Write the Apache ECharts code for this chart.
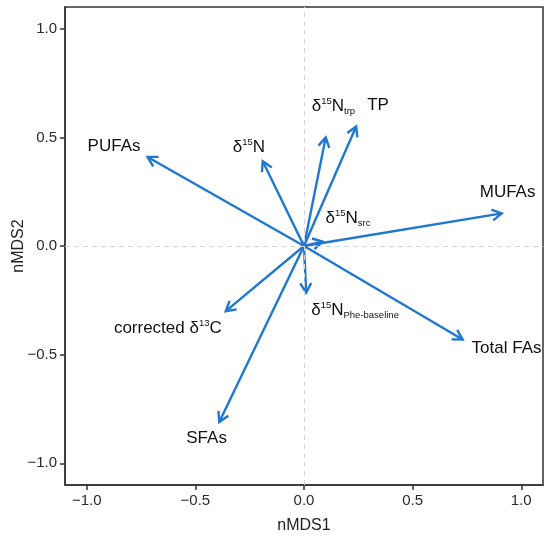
<!DOCTYPE html>
<html>
<head>
<meta charset="utf-8">
<style>
  html, body { margin: 0; padding: 0; background: #fff; }
  #chart { width: 550px; height: 541px; }
</style>
<script src="https://cdn.jsdelivr.net/npm/echarts@6/dist/echarts.min.js"></script>
</head>
<body>
<div id="chart"></div>
<script>
// 变量名称（rich 文本，带上下标）
var names = [
  'PUFAs',
  '{n|δ}{sup|15}{n|N}',
  '{n|δ}{sup|15}{n|N}{sub|trp}',
  'TP',
  'MUFAs',
  '{n|δ}{sup|15}{n|N}{sub|src}',
  '{n|δ}{sup|15}{n|N}{sub|Phe-baseline}',
  'Total FAs',
  '{n|corrected δ}{sup|13}{n|C}',
  'SFAs'
];
// 箭头终点坐标
var nmds1 = [-0.72, -0.19, 0.10, 0.24, 0.91, 0.085, 0.01, 0.73, -0.36, -0.39];
var nmds2 = [0.41, 0.39, 0.50, 0.55, 0.15, 0.02, -0.215, -0.43, -0.30, -0.81];
var ticks = [-1.0, -0.5, 0.0, 0.5, 1.0];

// 标签相对箭头尖端的像素偏移和对齐方式
var labelOffsets = [
  [-60, -11, 'left'], [-30, -14, 'left'], [-14, -31, 'left'], [11, -21, 'left'],
  [-22, -21, 'left'], [3, -23, 'left'], [5, 18, 'left'], [9, 9, 'left'],
  [-4, 17, 'right'], [-33, 16, 'left']
];

var blue = '#1f77d2';
var font = 'Liberation Sans, Arial, sans-serif';
var richStyle = {
  n: { fontSize: 17, lineHeight: 20, fill: '#111', fontFamily: font },
  sup: { fontSize: 9.5, lineHeight: 10, verticalAlign: 'top', fill: '#111', fontFamily: font },
  sub: { fontSize: 9.5, lineHeight: 10, verticalAlign: 'bottom', fill: '#111', fontFamily: font }
};

var arrowData = names.map(function (n, i) {
  return [nmds1[i], nmds2[i], i];
});

function fmt(v) {
  return (v < 0 ? '\u2212' : '') + Math.abs(v).toFixed(1);
}

var myChart = echarts.init(document.getElementById('chart'));

var axisLine = { show: true, onZero: false, lineStyle: { color: '#333', width: 1.5 } };
var axisTick = { show: true, inside: false, length: 5, customValues: ticks, lineStyle: { color: '#333', width: 1.5 } };

var option = {
  animation: false,
  grid: {
    left: 65, right: 7, top: 7, bottom: 56,
    outerBoundsMode: 'none',
    show: true, borderColor: '#333', borderWidth: 1.5, backgroundColor: 'transparent'
  },
  xAxis: {
    type: 'value', min: -1.1, max: 1.1,
    name: 'nMDS1', nameLocation: 'middle', nameGap: 33, nameMoveOverlap: false,
    nameTextStyle: { fontSize: 16, color: '#222', fontFamily: font },
    axisLine: axisLine,
    axisTick: axisTick,
    axisLabel: { customValues: ticks, formatter: fmt, fontSize: 15, color: '#2a2a2a', margin: 8, fontFamily: font },
    splitLine: { show: false }
  },
  yAxis: {
    type: 'value', min: -1.1, max: 1.1,
    name: 'nMDS2', nameLocation: 'middle', nameGap: 38, nameMoveOverlap: false,
    nameTextStyle: { fontSize: 16, color: '#222', fontFamily: font },
    axisLine: axisLine,
    axisTick: axisTick,
    axisLabel: { customValues: ticks, formatter: fmt, fontSize: 15, color: '#2a2a2a', margin: 8, fontFamily: font },
    splitLine: { show: false }
  },
  series: [{
    type: 'custom',
    silent: true,
    data: arrowData,
    markLine: {
      silent: true,
      symbol: 'none',
      label: { show: false },
      lineStyle: { color: '#d4d4d4', type: [5, 4], width: 1 },
      data: [{ xAxis: 0 }, { yAxis: 0 }]
    },
    renderItem: function (params, api) {
      var o = api.coord([0, 0]);
      var p = api.coord([api.value(0), api.value(1)]);
      var i = api.value(2);
      var ang = Math.atan2(p[1] - o[1], p[0] - o[0]);
      var len = 11, spread = Math.PI / 6;
      var a1 = [p[0] - len * Math.cos(ang - spread), p[1] - len * Math.sin(ang - spread)];
      var a2 = [p[0] - len * Math.cos(ang + spread), p[1] - len * Math.sin(ang + spread)];
      var off = labelOffsets[i];
      return {
        type: 'group',
        children: [
          { type: 'line', shape: { x1: o[0], y1: o[1], x2: p[0], y2: p[1] },
            style: { stroke: blue, lineWidth: 2.4 } },
          { type: 'polyline', shape: { points: [a1, p, a2] },
            style: { stroke: blue, lineWidth: 2.4, fill: null } },
          { type: 'text', x: p[0] + off[0], y: p[1] + off[1],
            style: {
              text: names[i], rich: richStyle,
              fontSize: 17, fill: '#111', fontFamily: font,
              align: off[2], verticalAlign: 'middle'
            } }
        ]
      };
    }
  }]
};

myChart.setOption(option);
</script>
</body>
</html>
